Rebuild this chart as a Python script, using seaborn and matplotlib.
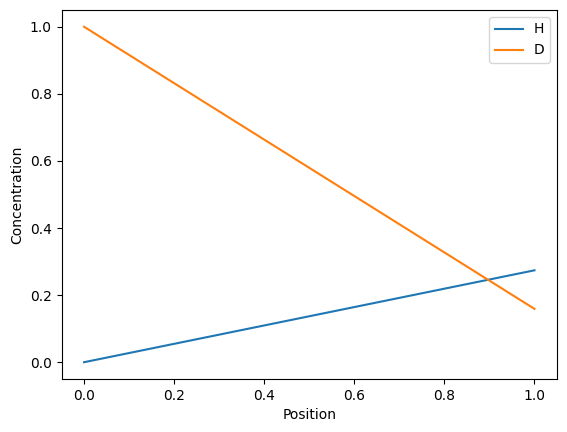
import numpy as np
import pandas as pd
import seaborn as sns
import matplotlib.pyplot as plt

# values
position = [0.0, 1.0]
conc_h = [0.0, 0.274]
conc_d = [1.0, 0.159]

fig, ax = plt.subplots(figsize=(5.67, 4.32), dpi=100)
fig.subplots_adjust(left=0.1085, right=0.9824, top=0.9769, bottom=0.1227)

sns.lineplot(x=position, y=conc_h, label='H', ax=ax)
sns.lineplot(x=position, y=conc_d, label='D', ax=ax)

ax.set_xlabel('Position')
ax.set_ylabel('Concentration')
ax.legend(loc='upper right')

plt.savefig('out.png', dpi=100)
